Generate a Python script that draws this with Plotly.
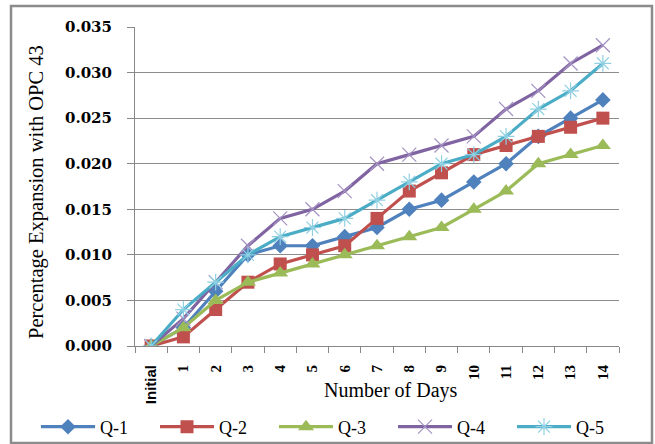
import plotly.graph_objects as go

categories = ["Initial", "1", "2", "3", "4", "5", "6", "7", "8", "9", "10", "11", "12", "13", "14"]
q1 = [0.000, 0.002, 0.006, 0.010, 0.011, 0.011, 0.012, 0.013, 0.015, 0.016, 0.018, 0.020, 0.023, 0.025, 0.027]
q2 = [0.000, 0.001, 0.004, 0.007, 0.009, 0.010, 0.011, 0.014, 0.017, 0.019, 0.021, 0.022, 0.023, 0.024, 0.025]
q3 = [0.000, 0.002, 0.005, 0.007, 0.008, 0.009, 0.010, 0.011, 0.012, 0.013, 0.015, 0.017, 0.020, 0.021, 0.022]
q4 = [0.000, 0.003, 0.007, 0.011, 0.014, 0.015, 0.017, 0.020, 0.021, 0.022, 0.023, 0.026, 0.028, 0.031, 0.033]
q5 = [0.000, 0.004, 0.007, 0.010, 0.012, 0.013, 0.014, 0.016, 0.018, 0.020, 0.021, 0.023, 0.026, 0.028, 0.031]
y_ticks = [0.000, 0.005, 0.010, 0.015, 0.020, 0.025, 0.030, 0.035]

series = [
    ("Q-1", q1, "#4F81BD", dict(symbol="diamond", size=12, color="#4F81BD")),
    ("Q-2", q2, "#C0504D", dict(symbol="square", size=13, color="#C0504D")),
    ("Q-3", q3, "#9BBB59", dict(symbol="triangle-up", size=14, color="#9BBB59")),
    ("Q-4", q4, "#8064A2", dict(symbol="x-thin-open", size=14, color="#A593C4", line=dict(width=1.2, color="#A593C4"))),
    ("Q-5", q5, "#4BACC6", dict(symbol="asterisk-open", size=14, color="#8FD0E3", line=dict(width=1.2, color="#8FD0E3"))),
]

fig = go.Figure()
for name, vals, col, mk in series:
    fig.add_trace(go.Scatter(x=categories, y=vals, name=name, mode="lines+markers",
                             line=dict(color=col, width=3.2), marker=mk))

serif = "Liberation Serif"
ticktext = ["<span style='font-family:Liberation Sans'><b>%s</b></span>" % c if c == "Initial" else "<b>%s</b>" % c
            for c in categories]
PW, PH = 484, 319
fig.update_layout(
    width=655, height=444,
    margin=dict(l=135, r=36, t=27, b=98, autoexpand=False),
    paper_bgcolor="white", plot_bgcolor="white",
    font=dict(family=serif, color="black"),
    showlegend=True,
    legend=dict(orientation="h", x=(36 - 135) / PW, xanchor="left", xref="paper",
                y=(346 - 427) / PH, yanchor="middle", yref="paper",
                font=dict(family=serif, size=18), itemwidth=54, entrywidth=50,
                bgcolor="rgba(0,0,0,0)"),
    shapes=[dict(type="rect", xref="paper", yref="paper", x0=(11 - 135) / PW, x1=(652 - 135) / PW,
                 y0=(346 - 443) / PH, y1=1 + (27 - 6) / PH,
                 line=dict(color="#8C8C8C", width=2.5), layer="below")],
    annotations=[
        dict(text="Number of Days", xref="paper", yref="paper", x=(391 - 135) / PW, y=(346 - 390) / PH,
             xanchor="center", yanchor="middle", showarrow=False, font=dict(family=serif, size=20)),
        dict(text="Percentage Expansion with OPC 43", xref="paper", yref="paper",
             x=(37 - 135) / PW, y=(346 - 192) / PH, textangle=-90,
             xanchor="center", yanchor="middle", showarrow=False, font=dict(family=serif, size=20.5)),
    ],
)
fig.update_xaxes(
    type="category", tickangle=-90, tickson="boundaries", ticks="outside", ticklen=6,
    tickcolor="#888888", showline=True, linecolor="#888888", linewidth=1,
    tickvals=categories, ticktext=ticktext, ticklabelstandoff=12,
    showgrid=False, tickfont=dict(family=serif, size=15, color="black"),
    range=[-0.5, 14.5],
)
fig.update_yaxes(
    range=[0, 0.035], tickvals=y_ticks, tickformat=".3f", ticks="outside", ticklen=7,
    tickcolor="#888888", showline=True, linecolor="#888888", linewidth=1,
    showgrid=True, gridcolor="#8C8C8C", gridwidth=1, zeroline=False,
    tickfont=dict(family="DejaVu Serif", size=15, color="black", weight="bold"),
    ticklabelstandoff=12,
)
fig.write_html("out.html", config={"displayModeBar": False},
               post_script="document.body.style.margin='0';")
